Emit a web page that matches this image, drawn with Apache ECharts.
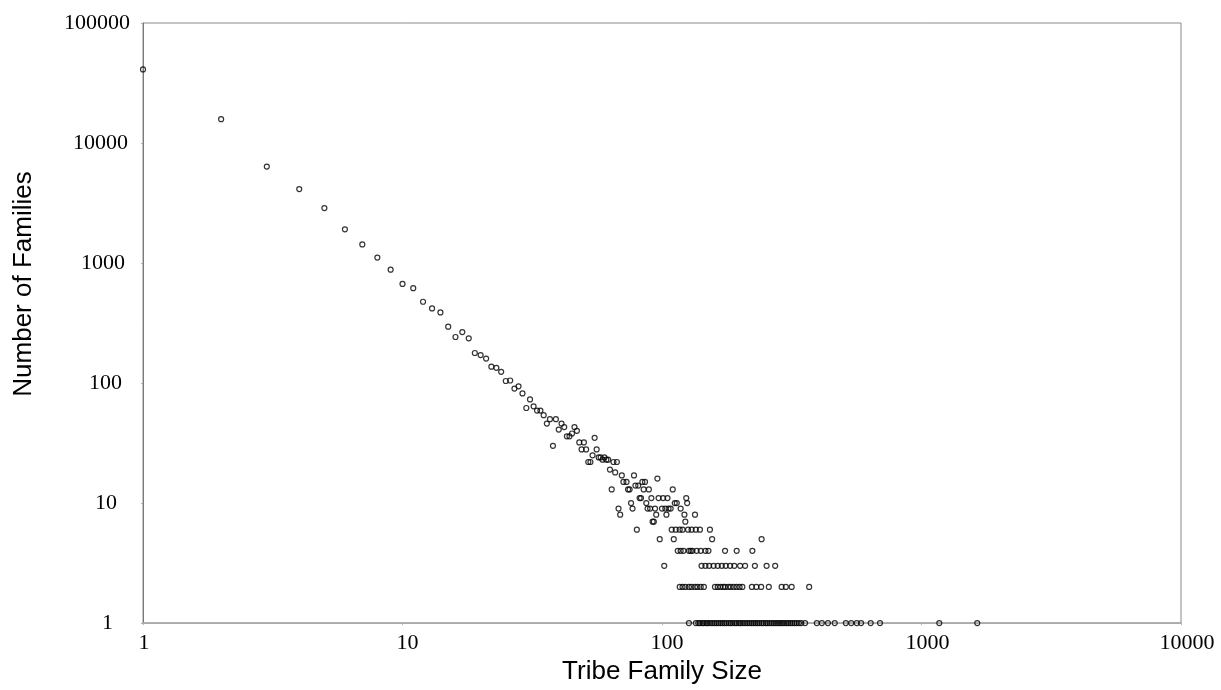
<!DOCTYPE html>
<html>
<head>
<meta charset="utf-8">
<script src="https://cdn.jsdelivr.net/npm/echarts@6/dist/echarts.min.js"></script>
<style>
html,body{margin:0;padding:0;background:#fff;}
#chart{width:1221px;height:690px;}
</style>
</head>
<body>
<div id="chart"></div>
<script>
// Tribe family size distribution (log-log)
const headSizes = [1,2,3,4,5,6,7,8,9,10,11,12,13,14,15,16,17,18,19,20,21,22,23,24,25,26,27,28,29,30,31,32,33,34,35,36,37,38,39,40,41,42,43,44,45,46,47,48,49,50,51,52,53,54,55,56,57,58,59,60,61,62];
const headCounts = [41000,15800,6360,4130,2870,1910,1430,1110,880,670,618,476,419,388,295,242,266,236,178,171,160,137,134,124,104,105,90,94,82,62,73,64,59,59,54,46,50,30,50,41,46,43,36,36,38,43,40,32,28,32,28,22,22,25,35,28,24,24,23,24,23,23];

// Tail: sizes grouped by their number of families
const sizesWith22 = [65, 67];
const sizesWith19 = [63];
const sizesWith18 = [66];
const sizesWith17 = [70, 78];
const sizesWith16 = [96];
const sizesWith15 = [71, 73, 84, 86];
const sizesWith14 = [79, 81];
const sizesWith13 = [64, 74, 75, 85, 89, 110];
const sizesWith11 = [82, 83, 91, 97, 101, 105, 124];
const sizesWith10 = [76, 87, 112, 114, 125];
const sizesWith9 = [68, 77, 88, 90, 94, 100, 103, 106, 108, 118];
const sizesWith8 = [69, 95, 104, 122, 134];
const sizesWith7 = [92, 93, 123];
const sizesWith6 = [80, 109, 113, 117, 120, 126, 130, 135, 140, 153];
const sizesWith5 = [98, 111, 156, 242];
const sizesWith4 = [115, 118, 121, 127, 129, 131, 136, 141, 147, 151, 175, 194, 223];
const sizesWith3 = [102, 142, 147, 152, 158, 164, 170, 176, 183, 190, 200, 209, 228, 253, 273];
const sizesWith2 = [117, 120, 123, 127, 130, 134, 137, 141, 145, 160, 164, 168, 172, 175, 180, 184, 189, 194, 199, 204, 222, 231, 241, 258, 289, 300, 316, 369];
const sizesWith1 = [127, 135, 138, 140, 143, 145, 148, 150, 153, 156, 159, 162, 165, 168, 171, 174, 177, 181, 184, 187, 191, 194, 198, 201, 205, 209, 213, 217, 221, 225, 229, 233, 237, 242, 246, 251, 255, 260, 265, 270, 275, 280, 285, 290, 295, 301, 306, 312, 318, 324, 330, 337, 344, 356, 395, 413, 436, 463, 511, 536, 563, 585, 637, 692, 1171, 1640];

const xTicks = [1, 10, 100, 1000, 10000];
const yTicks = [1, 10, 100, 1000, 10000, 100000];

const tailGroups = [
  [22, sizesWith22], [19, sizesWith19], [18, sizesWith18], [17, sizesWith17],
  [16, sizesWith16], [15, sizesWith15], [14, sizesWith14], [13, sizesWith13],
  [11, sizesWith11], [10, sizesWith10], [9, sizesWith9], [8, sizesWith8],
  [7, sizesWith7], [6, sizesWith6], [5, sizesWith5], [4, sizesWith4],
  [3, sizesWith3], [2, sizesWith2], [1, sizesWith1]
];

const points = headSizes.map((s, i) => [s, headCounts[i]]);
tailGroups.forEach(([c, list]) => list.forEach(s => points.push([s, c])));

const labelFont = {fontFamily: 'Liberation Serif', fontSize: 22, color: '#000'};
const yRich = {}, xRich = {};
const yPad = [17, 13, 8, 5, 2, 0];
yTicks.forEach((t, i) => { yRich['y' + i] = Object.assign({padding: [0, yPad[i], 0, 0]}, labelFont); });
const xPad = [2, 10, 10, 12, 12];
xTicks.forEach((t, i) => { xRich['x' + i] = Object.assign({padding: [0, 0, 0, xPad[i]]}, labelFont); });

const yFmt = v => { const i = yTicks.indexOf(Math.round(v)); return i >= 0 ? '{y' + i + '|' + yTicks[i] + '}' : ''; };
const xFmt = v => { const i = xTicks.indexOf(Math.round(v)); return i >= 0 ? '{x' + i + '|' + xTicks[i] + '}' : ''; };

const chart = echarts.init(document.getElementById('chart'), null, {renderer: 'canvas'});
chart.setOption({
  animation: false,
  backgroundColor: '#fff',
  grid: {left: 143, right: 40, top: 23, bottom: 64, show: true, borderColor: '#8a8a8a', borderWidth: 1, backgroundColor: 'transparent'},
  graphic: [{
    type: 'text', x: 24, y: 284, rotation: Math.PI / 2,
    style: {text: 'Number of Families', fontFamily: 'Liberation Sans', fontSize: 26, fill: '#000', align: 'center', verticalAlign: 'middle'}
  }],
  xAxis: {
    type: 'log', logBase: 10, min: xTicks[0], max: xTicks[xTicks.length - 1],
    name: 'Tribe Family Size', nameLocation: 'middle', nameGap: 31,
    nameTextStyle: {fontFamily: 'Liberation Sans', fontSize: 26, color: '#000'},
    axisLine: {show: true, lineStyle: {color: '#a6a6a6', width: 1.5}},
    axisTick: {show: true, inside: false, length: 2, lineStyle: {color: '#b0b0b0'}},
    axisLabel: {margin: 9, formatter: xFmt, rich: xRich},
    splitLine: {show: false}
  },
  yAxis: {
    type: 'log', logBase: 10, min: yTicks[0], max: yTicks[yTicks.length - 1],
    axisLine: {show: true, lineStyle: {color: '#7a7a7a', width: 1}},
    axisTick: {show: true, inside: false, length: 2, lineStyle: {color: '#b0b0b0'}},
    axisLabel: {margin: 13, formatter: yFmt, rich: yRich},
    splitLine: {show: false}
  },
  series: [{
    type: 'scatter',
    data: points,
    symbol: 'circle',
    symbolSize: 5,
    itemStyle: {color: 'rgba(0,0,0,0)', borderColor: '#000', borderWidth: 1.2},
    emphasis: {disabled: true}
  }]
});
</script>
</body>
</html>
